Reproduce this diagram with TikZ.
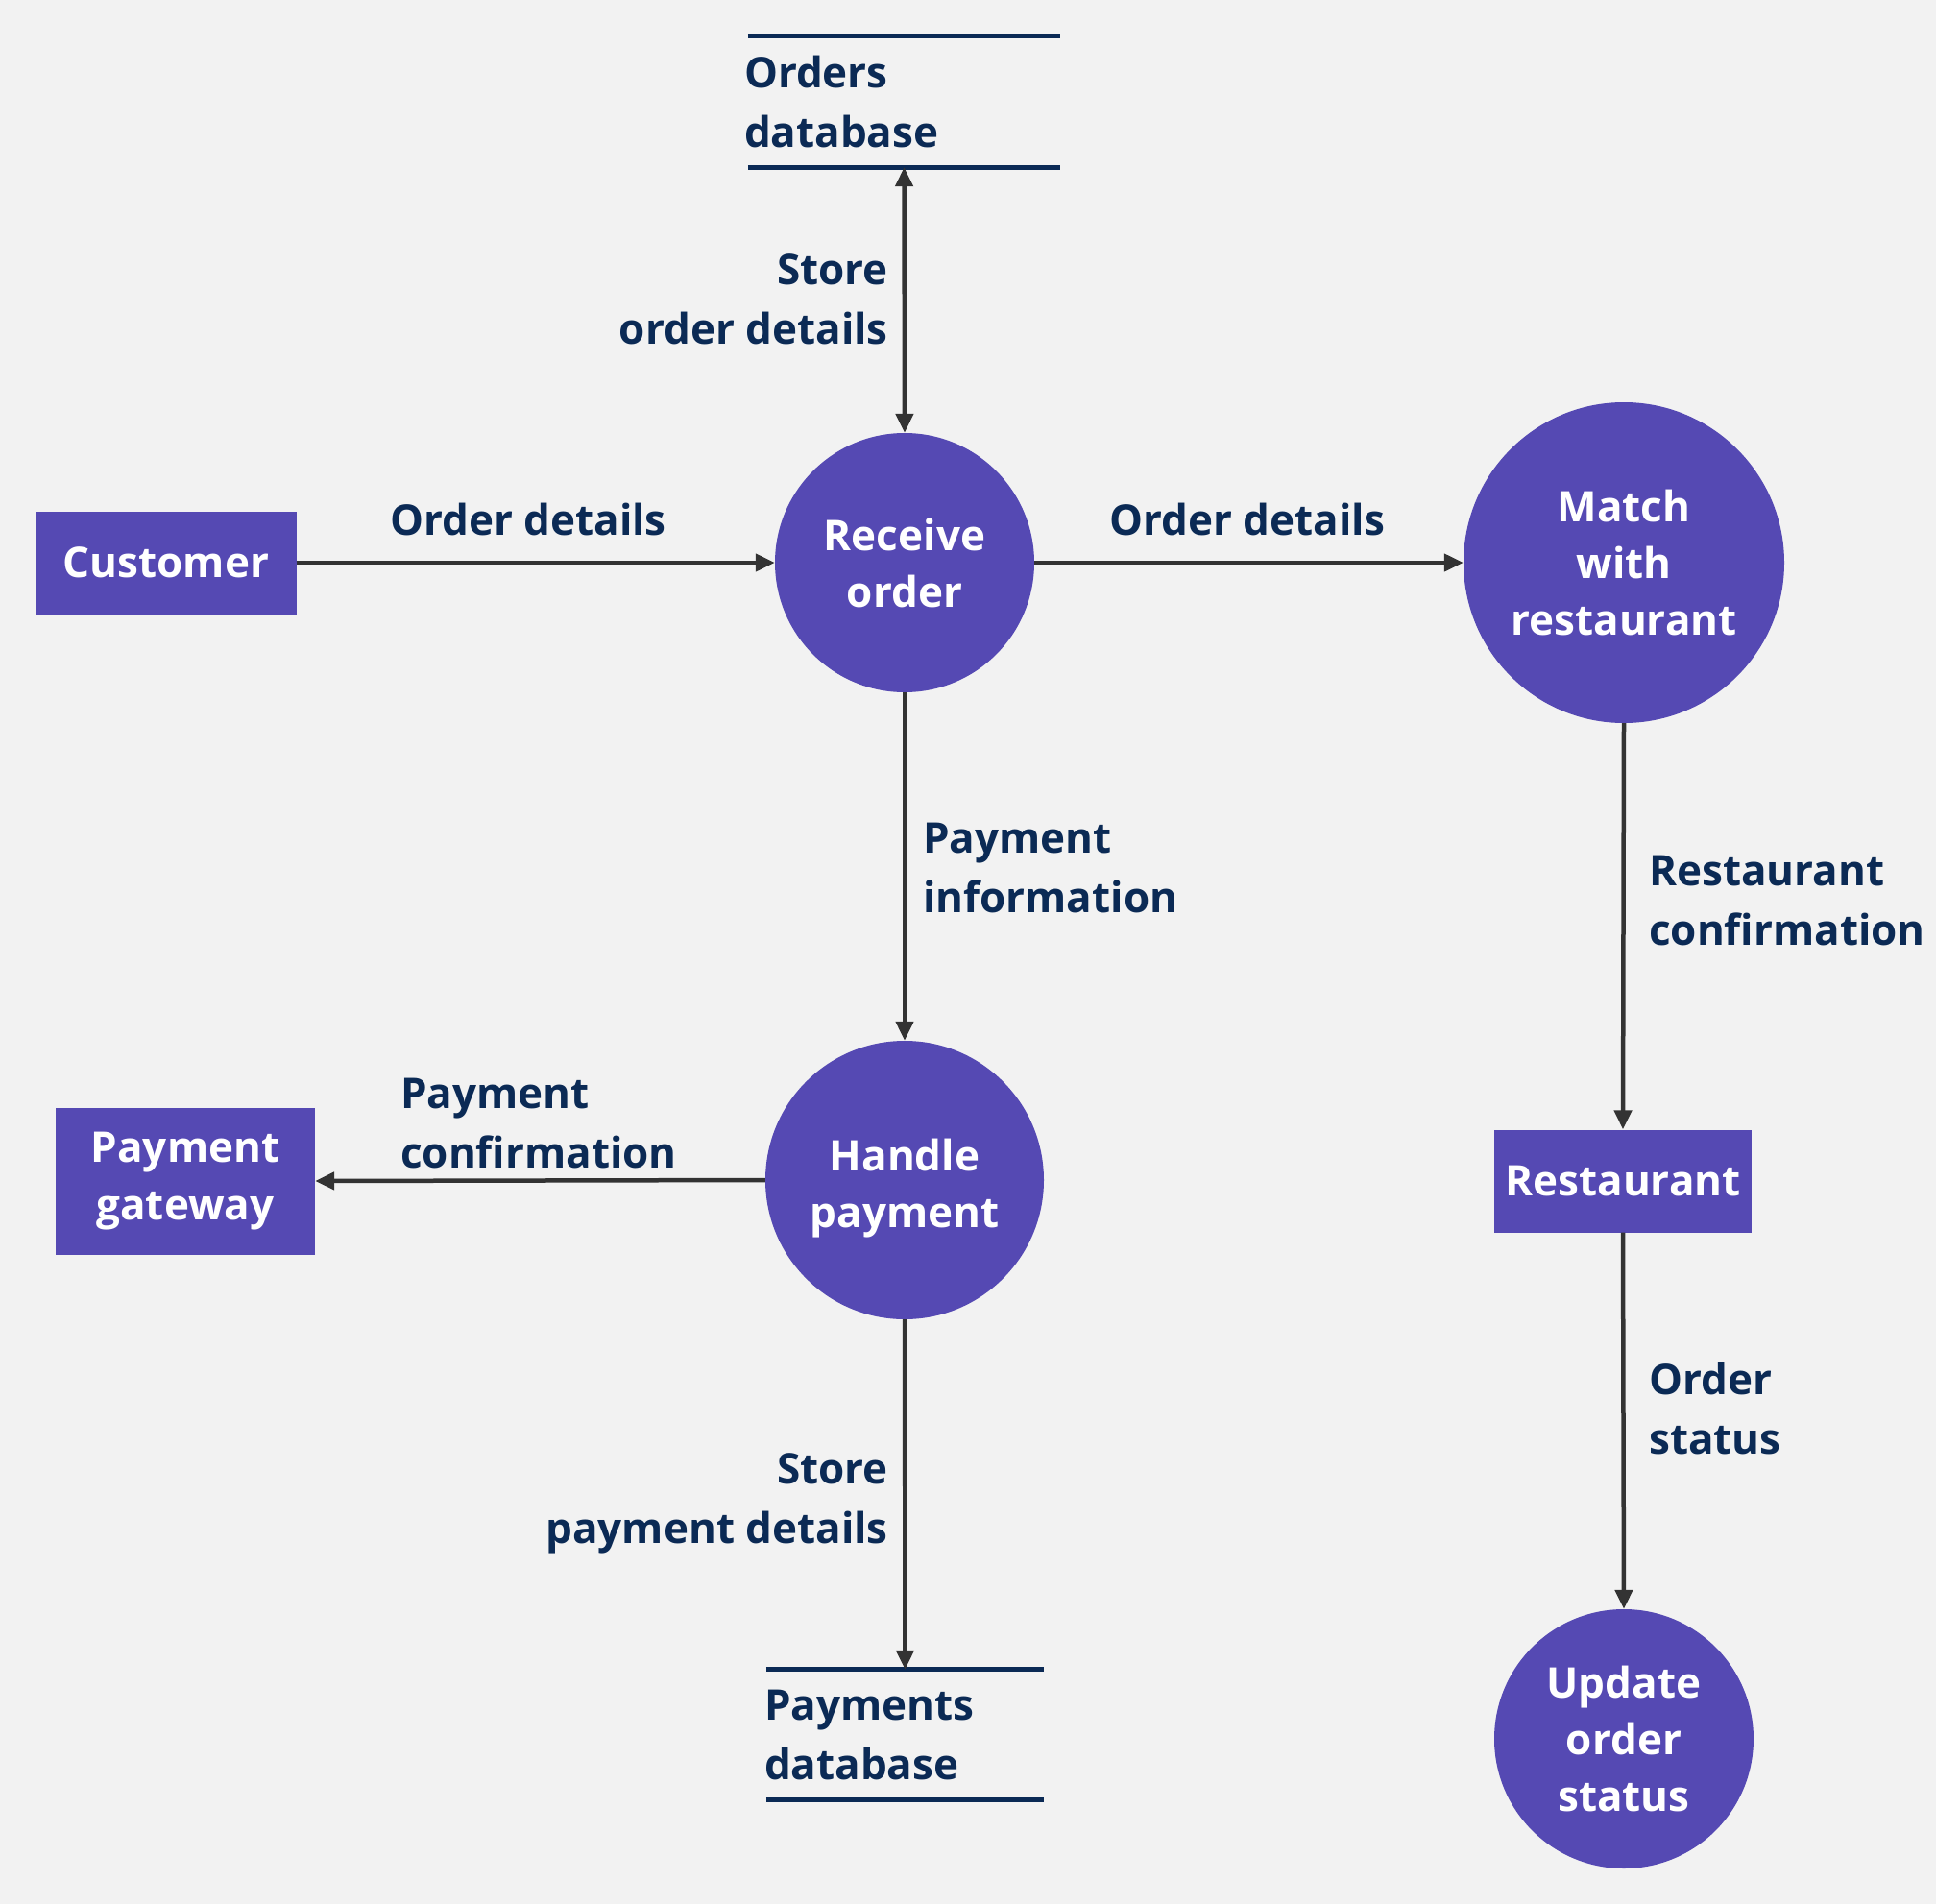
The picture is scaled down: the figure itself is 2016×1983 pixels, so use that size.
\documentclass[tikz,border=0pt]{standalone}
\usepackage{fontspec}
\setmainfont{Open Sans}
\usetikzlibrary{arrows.meta}
\definecolor{bgc}{HTML}{F2F2F2}
\definecolor{purp}{HTML}{5549B3}
\definecolor{navy}{HTML}{0B2A55}
\definecolor{arr}{HTML}{333333}
\begin{document}
\begin{tikzpicture}[x=1pt,y=-1pt,
  every node/.style={font=\fontsize{44}{62}\selectfont\bfseries},
  proc/.style={circle,fill=purp,text=white,inner sep=0pt,align=center,font=\fontsize{44}{59}\selectfont\bfseries},
  ent/.style={rectangle,fill=purp,text=white,inner sep=0pt,align=center,font=\fontsize{44}{60}\selectfont\bfseries},
  store/.style={rectangle,inner xsep=0pt,inner ysep=0pt,text=navy,align=left},
  storeline/.style={draw=navy,line width=5pt},
  lbl/.style={text=navy,inner sep=0pt},
  flow/.style={draw=arr,line width=4.5pt,-{Triangle[length=20pt,width=18pt]}},
  flow2/.style={draw=arr,line width=4.5pt,{Triangle[length=20pt,width=18pt]}-{Triangle[length=20pt,width=18pt]}}
]
\fill[bgc] (0,0) rectangle (2016,1983);
\useasboundingbox (0,0) rectangle (2016,1983);

% processes
\node[proc,minimum size=270pt] (recv) at (942,586) {Receive\\order};
\node[proc,minimum size=334pt] (match) at (1691,586) {Match\\with\\restaurant};
\node[proc,minimum size=290pt] (handle) at (942,1229) {\rule{0pt}{50pt}Handle\\payment};
\node[proc,minimum size=270pt] (upd) at (1691,1811) {Update\\order\\status};

% entities
\node[ent,minimum width=271pt,minimum height=107pt] (cust) at (173,586) {Customer};
\node[ent,minimum width=270pt,minimum height=153pt] (gw) at (193,1230) {Payment\\gateway};
\node[ent,minimum width=268pt,minimum height=107pt] (rest) at (1690,1230) {Restaurant};

% data stores
\node[store,text width=325pt,minimum height=136pt] (odb) at (941.5,106) {\hspace*{-4pt}Orders\\\hspace*{-4pt}database};
\draw[storeline] (odb.north west) -- (odb.north east);
\draw[storeline] (odb.south west) -- (odb.south east);
\node[store,text width=289pt,minimum height=135pt] (pdb) at (942.5,1806.5) {\hspace*{-2pt}Payments\\\hspace*{-2pt}database};
\draw[storeline] (pdb.north west) -- (pdb.north east);
\draw[storeline] (pdb.south west) -- (pdb.south east);

% connectors
\draw[flow2] (odb.south) -- (recv.north);
\draw[flow] (cust.east) -- (recv.west);
\draw[flow] (recv.east) -- (match.west);
\draw[flow] (recv.south) -- (handle.north);
\draw[flow] (handle.west) -- (gw.east);
\draw[flow] (handle.south) -- (pdb.north);
\draw[flow] (match.south) -- (rest.north);
\draw[flow] (rest.south) -- (upd.north);

% labels
\node[lbl] (l1) at (550,541) {Order details};
\node[lbl] (l2) at (1299,541) {Order details};
\node[lbl,anchor=east,align=right] (l3) at (925,312) {Store\\order details};
\node[lbl,anchor=west,align=left] (l4) at (961,904) {Payment\\information};
\node[lbl,anchor=west,align=left] (l5) at (417,1170) {Payment\\confirmation};
\node[lbl,anchor=east,align=right] (l6) at (925,1566) {Store\\payment details};
\node[lbl,anchor=west,align=left] (l7) at (1717,938) {Restaurant\\confirmation};
\node[lbl,anchor=west,align=left] (l8) at (1717,1467) {Order\\status};
\end{tikzpicture}
\end{document}
